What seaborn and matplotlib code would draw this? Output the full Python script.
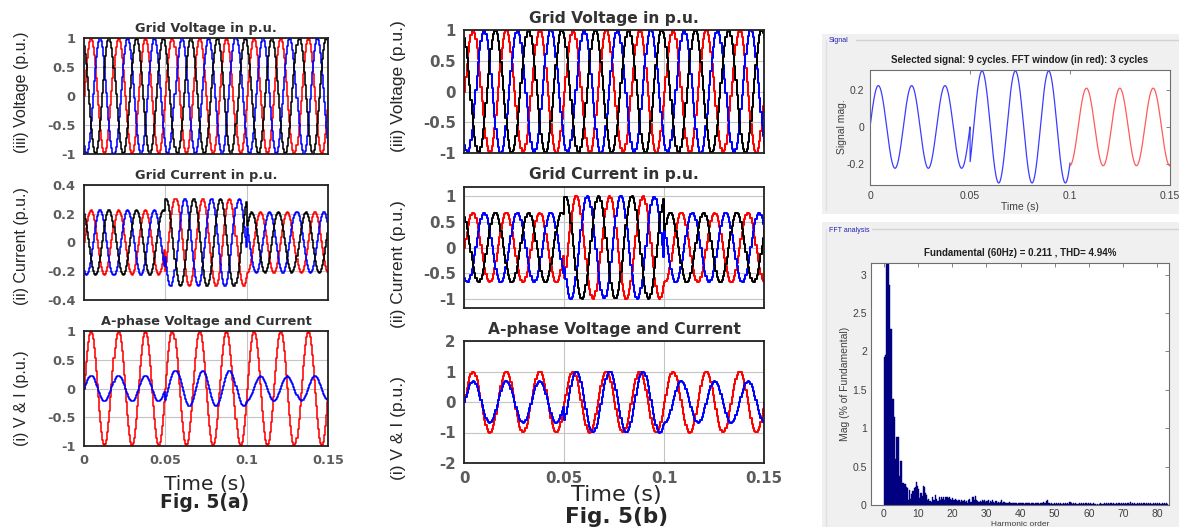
import numpy as np
import matplotlib
matplotlib.use("Agg")
import matplotlib.pyplot as plt
import seaborn as sns
from matplotlib.patches import Rectangle
from matplotlib.lines import Line2D

# ---------------------------------------------------------------- data
FREQ_HZ = 60.0
T_END = 0.15
STEP_S = 1 / 1600            # solver output step (zero-order hold look)
FINE_STEP_S = 1 / 12000      # step for the FFT tool's signal trace
SEGMENT_EDGES = [0.0, 0.05, 0.10, 0.15]
PHASE_OFFSETS_DEG = [0.0, -120.0, 120.0]        # phases a, b, c
PHASE_COLORS = ["#ff0000", "#0000ff", "#000000"]

VOLT_PEAK = 1.0
# case (a): current peak (p.u.) and lag behind voltage (deg) per interval
CURR_PEAK_A = [0.225, 0.305, 0.211]
CURR_LAG_A = [0.0, 40.0, 88.0]
# case (b)
CURR_PEAK_B = [0.68, 1.0, 0.68]
CURR_LAG_B = [0.0, 36.0, 90.0]

TIME_TICKS = [0, 0.05, 0.1, 0.15]
TIME_TICK_LABELS = ["0", "0.05", "0.1", "0.15"]
FFT_WINDOW_START = 0.10

# FFT spectrum, bins every 1/3 harmonic (3-cycle window), % of fundamental
HARMONIC_BIN = 1 / 3
FFT_MAG = [
    1.93, 1.95, 100.0, 100.0, 2.86, 2.29, 2.29, 1.38, 1.38, 1.15,
    0.60, 0.88, 0.88, 0.38, 0.57, 0.57, 0.28, 0.28, 0.27, 0.24,
    0.22, 0.07, 0.20, 0.08, 0.14, 0.18, 0.22, 0.24, 0.30, 0.25,
    0.21, 0.09, 0.16, 0.12, 0.25, 0.24, 0.15, 0.13, 0.06, 0.08,
    0.05, 0.04, 0.10, 0.07, 0.06, 0.13, 0.08, 0.05, 0.10, 0.07,
    0.11, 0.08, 0.10, 0.06, 0.11, 0.10, 0.09, 0.10, 0.08, 0.07,
    0.09, 0.06, 0.08, 0.07, 0.05, 0.07, 0.06, 0.04, 0.06, 0.05,
    0.07, 0.04, 0.05, 0.03, 0.06, 0.08, 0.04, 0.10, 0.11, 0.06,
    0.12, 0.06, 0.05, 0.04, 0.05, 0.04, 0.06, 0.05, 0.07, 0.04,
    0.05, 0.06, 0.03, 0.05, 0.04, 0.06, 0.04, 0.03, 0.05, 0.02,
    0.04, 0.03, 0.04, 0.06, 0.02, 0.04, 0.03, 0.02, 0.03, 0.02,
    0.04, 0.02, 0.03, 0.02, 0.02, 0.03, 0.02, 0.01, 0.02, 0.03,
    0.02, 0.03, 0.02, 0.01, 0.03, 0.02, 0.02, 0.03, 0.01, 0.02,
    0.02, 0.03, 0.01, 0.02, 0.02, 0.02, 0.01, 0.03, 0.02, 0.03,
    0.04, 0.03, 0.05, 0.06, 0.03, 0.02, 0.01, 0.02, 0.01, 0.02,
    0.01, 0.02, 0.01, 0.02, 0.01, 0.02, 0.01, 0.02, 0.01, 0.02,
    0.01, 0.02, 0.01, 0.04, 0.02, 0.01, 0.02, 0.01, 0.02, 0.01,
    0.01, 0.02, 0.01, 0.02, 0.01, 0.02, 0.01, 0.02, 0.01, 0.02,
    0.01, 0.02, 0.01, 0.01, 0.02, 0.01, 0.005, 0.01, 0.005, 0.01,
    0.02, 0.01, 0.01, 0.02, 0.01, 0.02, 0.01, 0.02, 0.01, 0.02,
    0.01, 0.02, 0.01, 0.01, 0.02, 0.01, 0.02, 0.01, 0.02, 0.01,
    0.02, 0.01, 0.02, 0.01, 0.03, 0.01, 0.04, 0.01, 0.02, 0.01,
    0.02, 0.01, 0.02, 0.01, 0.02, 0.01, 0.02, 0.01, 0.02, 0.01,
    0.02, 0.01, 0.02, 0.01, 0.02, 0.01, 0.02, 0.01, 0.02, 0.01,
    0.02, 0.01, 0.02, 0.01, 0.02, 0.01, 0.02, 0.01, 0.02, 0.01,
]
FUNDAMENTAL_TXT = "Fundamental (60Hz) = 0.211 , THD= 4.94%"


# ---------------------------------------------------------------- signals
def segment_index(t):
    return np.searchsorted(SEGMENT_EDGES[1:-1], t, side="right")


def phase_wave(t, peaks, lags, offset_deg):
    idx = segment_index(t)
    amp = np.asarray(peaks)[idx]
    lag = np.radians(np.asarray(lags)[idx])
    return amp * np.sin(2 * np.pi * FREQ_HZ * t + np.radians(offset_deg) - lag)


t_step = np.arange(0, T_END + STEP_S, STEP_S)
t_fine = np.arange(0, T_END + FINE_STEP_S / 2, FINE_STEP_S)

# ---------------------------------------------------------------- figure
sns.set_style("white")
plt.rcParams["font.family"] = ["DejaVu Sans"]
plt.rcParams["axes.unicode_minus"] = False

W, H = 1179, 527
fig = plt.figure(figsize=(W / 100, H / 100), dpi=100)
fig.patch.set_facecolor("white")


def px_axes(left, top, right, bottom):
    return fig.add_axes([left / W, 1 - bottom / H, (right - left) / W, (bottom - top) / H])


def fig_text(x, y, s, **kw):
    fig.text(x / W, 1 - y / H, s, **kw)


ARIAL = ["Liberation Sans", "DejaVu Sans"]


def style_wave_axes(ax, ylim, yticks, fs, show_x, pad):
    ax.set_xlim(0, T_END)
    ax.set_ylim(*ylim)
    ax.set_xticks(TIME_TICKS)
    ax.set_yticks(yticks)
    ax.set_yticklabels([f"{v:g}" for v in yticks])
    ax.set_xticklabels(TIME_TICK_LABELS if show_x else [])
    ax.grid(True, color="#c4c4c4", lw=0.8)
    ax.set_axisbelow(True)
    for sp in ax.spines.values():
        sp.set_visible(True)
        sp.set_color("#222222")
        sp.set_linewidth(1.3)
    ax.tick_params(length=0, labelsize=fs, labelcolor="#5c5c5c", pad=pad)
    for lbl in ax.get_xticklabels() + ax.get_yticklabels():
        lbl.set_fontweight("bold")
    ax.set_xlabel("")
    ax.set_ylabel("")


def draw_case(boxes, curr_peak, curr_lag, ylim_i, yt_i, ylim_a, yt_a, fs_tick,
              fs_title, title_pads, lw):
    ax_v, ax_i, ax_a = [px_axes(*b) for b in boxes]
    for off, col in zip(PHASE_OFFSETS_DEG, PHASE_COLORS):
        v = VOLT_PEAK * np.sin(2 * np.pi * FREQ_HZ * t_step + np.radians(off))
        sns.lineplot(x=t_step, y=v, ax=ax_v, color=col, lw=lw, drawstyle="steps-post",
                     estimator=None, sort=False, legend=False)
        i = phase_wave(t_step, curr_peak, curr_lag, off)
        sns.lineplot(x=t_step, y=i, ax=ax_i, color=col, lw=lw, drawstyle="steps-post",
                     estimator=None, sort=False, legend=False)
    va = VOLT_PEAK * np.sin(2 * np.pi * FREQ_HZ * t_step)
    ia = phase_wave(t_step, curr_peak, curr_lag, 0.0)
    sns.lineplot(x=t_step, y=va, ax=ax_a, color="#ff0000", lw=lw, drawstyle="steps-post",
                 estimator=None, sort=False, legend=False)
    sns.lineplot(x=t_step, y=ia, ax=ax_a, color="#0000ff", lw=lw, drawstyle="steps-post",
                 estimator=None, sort=False, legend=False)

    style_wave_axes(ax_v, (-1, 1), [-1, -0.5, 0, 0.5, 1], fs_tick, False, 6)
    style_wave_axes(ax_i, ylim_i, yt_i, fs_tick, False, 6)
    style_wave_axes(ax_a, ylim_a, yt_a, fs_tick, True, 6)
    titles = ["Grid Voltage in p.u.", "Grid Current in p.u.", "A-phase Voltage and Current"]
    for ax, ttl, pd_ in zip((ax_v, ax_i, ax_a), titles, title_pads):
        ax.set_title(ttl, fontsize=fs_title, fontweight="bold", color="#333333", pad=pd_)
    return ax_v, ax_i, ax_a


# Fig. 5(a)
draw_case([(84, 38, 328, 154), (84, 185, 328, 300), (84, 331, 328, 446)],
          CURR_PEAK_A, CURR_LAG_A, (-0.4, 0.4), [-0.4, -0.2, 0, 0.2, 0.4],
          (-1, 1), [-1, -0.5, 0, 0.5, 1], 9.3, 9.3, (4, 4, 4), 1.15)
# Fig. 5(b)
draw_case([(464, 30, 764, 153), (464, 187, 764, 308), (464, 341, 764, 463)],
          CURR_PEAK_B, CURR_LAG_B, (-1.18, 1.18), [-1, -0.5, 0, 0.5, 1],
          (-2, 2), [-2, -1, 0, 1, 2], 10.8, 11.2, (5, 6, 5), 1.45)

# y-axis labels and captions
for x, y, s in [(22, 92, "(iii) Voltage (p.u.)"), (22, 246, "(ii) Current (p.u.)"),
                (22, 398, "(i) V & I (p.u.)")]:
    fig_text(x, y, s, rotation=90, ha="center", va="center", fontsize=11.5, family=ARIAL)
for x, y, s in [(398, 86, "(iii) Voltage (p.u.)"), (398, 264, "(ii) Current (p.u.)"),
                (398, 428, "(i) V & I (p.u.)")]:
    fig_text(x, y, s, rotation=90, ha="center", va="center", fontsize=12.5, family=ARIAL)

fig_text(205, 484, "Time (s)", ha="center", va="center", fontsize=14.5)
fig_text(205, 503, "Fig. 5(a)", ha="center", va="center", fontsize=13.5, fontweight="bold")
fig_text(616, 495, "Time (s)", ha="center", va="center", fontsize=16)
fig_text(617, 517, "Fig. 5(b)", ha="center", va="center", fontsize=15.5, fontweight="bold")

# ---------------------------------------------------------------- FFT tool panels
PANEL_GRAY = "#f0f0f0"
for (l, t, r, b) in [(822, 34, 1179, 214), (822, 222, 1179, 527)]:
    fig.add_artist(Rectangle((l / W, 1 - b / H), (r - l) / W, (b - t) / H,
                             transform=fig.transFigure, facecolor=PANEL_GRAY,
                             edgecolor="none", zorder=-5))
for (y, x0, y1, label) in [(40, 856, 210, "Signal"), (229, 872, 527, "FFT analysis")]:
    fig.add_artist(Line2D([x0 / W, 1.0], [1 - y / H, 1 - y / H], transform=fig.transFigure,
                          color="#d2d2d2", lw=1.0, zorder=-4))
    fig.add_artist(Line2D([826 / W, 826 / W], [1 - y / H, 1 - y1 / H],
                          transform=fig.transFigure, color="#e0e0e0", lw=1.0, zorder=-4))
    fig_text(829, y + 1, label, ha="left", va="center", fontsize=5, color="#2020b0",
             family=ARIAL)


def style_tool_axes(ax, pad=4):
    ax.set_facecolor("white")
    for sp in ax.spines.values():
        sp.set_visible(True)
        sp.set_color("#6e6e6e")
        sp.set_linewidth(0.8)
    ax.tick_params(direction="in", length=3, width=0.6, top=True, right=True,
                   labelsize=7.5, labelcolor="#404040", color="#6e6e6e", pad=pad)
    for lbl in ax.get_xticklabels() + ax.get_yticklabels():
        lbl.set_family(ARIAL)
    ax.set_xlabel("")
    ax.set_ylabel("")


ax_sig = px_axes(870, 70, 1170, 185)
sel = t_fine <= FFT_WINDOW_START
i_sig = phase_wave(t_fine, CURR_PEAK_A, CURR_LAG_A, 0.0)
sns.lineplot(x=t_fine[sel], y=i_sig[sel], ax=ax_sig, color="#3c3cff", lw=0.9,
             estimator=None, sort=False, legend=False)
sns.lineplot(x=t_fine[~sel], y=i_sig[~sel], ax=ax_sig, color="#ff5a5a", lw=0.9,
             estimator=None, sort=False, legend=False)
ax_sig.set_xlim(0, T_END)
ax_sig.set_ylim(-0.316, 0.31)
ax_sig.set_xticks(TIME_TICKS)
ax_sig.set_xticklabels(TIME_TICK_LABELS)
ax_sig.set_yticks([-0.2, 0, 0.2])
ax_sig.set_yticklabels(["-0.2", "0", "0.2"])
style_tool_axes(ax_sig)
ax_sig.set_title("Selected signal: 9 cycles. FFT window (in red): 3 cycles",
                 fontsize=7, fontweight="bold", color="#202020", pad=5, family=ARIAL)
fig_text(1020, 207, "Time (s)", ha="center", va="center", fontsize=7.5, color="#404040",
         family=ARIAL)
fig_text(842, 127, "Signal mag.", rotation=90, ha="center", va="center", fontsize=7.5,
         color="#404040", family=ARIAL)

ax_fft = px_axes(871, 263, 1169, 505)
h_left = np.arange(len(FFT_MAG)) * HARMONIC_BIN
ax_fft.bar(h_left, FFT_MAG, width=HARMONIC_BIN, align="edge", color="#000080",
           edgecolor="#000080", linewidth=0.3)
ax_fft.set_xlim(-3.8, 83.5)
ax_fft.set_ylim(0, 3.15)
ax_fft.set_xticks(np.arange(0, 81, 10))
ax_fft.set_xticklabels([str(v) for v in range(0, 81, 10)])
ax_fft.set_yticks([0, 0.5, 1, 1.5, 2, 2.5, 3])
ax_fft.set_yticklabels(["0", "0.5", "1", "1.5", "2", "2.5", "3"])
style_tool_axes(ax_fft, pad=3)
ax_fft.set_title(FUNDAMENTAL_TXT, fontsize=7, fontweight="bold", color="#202020", pad=5,
                 family=ARIAL)
fig_text(845, 384, "Mag (% of Fundamental)", rotation=90, ha="center", va="center",
         fontsize=7.5, color="#404040", family=ARIAL)
fig_text(1020, 524, "Harmonic order", ha="center", va="center", fontsize=6,
         color="#404040", family=ARIAL)

fig.savefig("out.png", dpi=100, facecolor="white")
